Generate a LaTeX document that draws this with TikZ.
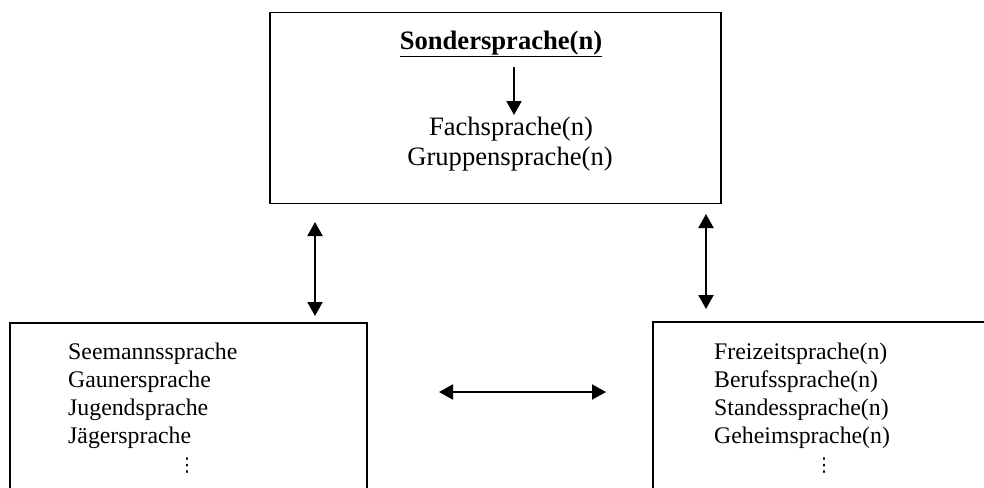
\documentclass[tikz,border=0pt]{standalone}
\usepackage{fontspec}
\setmainfont{Liberation Serif}
\newfontfamily\dotsfont{DejaVu Sans}
\usetikzlibrary{arrows.meta}
\begin{document}
\begin{tikzpicture}[x=1pt,y=-1pt,
  boxline/.style={draw=black,line width=1.5pt},
  bigtxt/.style={inner sep=0pt,anchor=base,font=\fontsize{26.6}{30}\selectfont},
  smalltxt/.style={inner sep=0pt,anchor=base west,font=\fontsize{23.8}{28}\selectfont},
  dotstxt/.style={inner sep=0pt,anchor=center,font=\dotsfont\fontsize{19}{19}\selectfont},
  dbl/.style={line width=2pt,{Triangle[length=14pt,width=15pt]}-{Triangle[length=14pt,width=15pt]}},
  sgl/.style={line width=2pt,-{Triangle[length=14pt,width=15pt]}}]
\clip (0,0) rectangle (984,487);
\fill[white] (0,0) rectangle (984,487);
% boxes
\node[boxline,minimum width=451pt,minimum height=191pt,inner sep=0pt] (top) at (495.5,108) {};
\node[boxline,minimum width=357pt,minimum height=200pt,inner sep=0pt] (left) at (188.5,423) {};
\node[boxline,minimum width=360pt,minimum height=200pt,inner sep=0pt] (right) at (833,422) {};
% top texts
\node[bigtxt,font=\bfseries\fontsize{26.6}{30}\selectfont] (sonder) at (501,49) {\underline{Sondersprache(n)}};
\node[bigtxt] (fach) at (511,135) {Fachsprache(n)};
\node[bigtxt] (gruppe) at (510,165.5) {Gruppensprache(n)};
% left texts
\node[smalltxt] (l1) at (68,359) {Seemannssprache};
\node[smalltxt] (l2) at (68,387) {Gaunersprache};
\node[smalltxt] (l3) at (68,415) {Jugendsprache};
\node[smalltxt] (l4) at (68,443) {Jägersprache};
\node[dotstxt] (l5) at (187,466) {⋮};
% right texts
\node[smalltxt] (r1) at (714,359) {Freizeitsprache(n)};
\node[smalltxt] (r2) at (714,387) {Berufssprache(n)};
\node[smalltxt] (r3) at (714,415) {Standessprache(n)};
\node[smalltxt] (r4) at (714,443) {Geheimsprache(n)};
\node[dotstxt] (r5) at (824,466) {⋮};
% arrow end points
\coordinate (a1) at (514,67);
\coordinate (a2) at (514,115);
\coordinate (lv1) at (315,222);
\coordinate (lv2) at (315,316);
\coordinate (rv1) at (706,214);
\coordinate (rv2) at (706,309);
\coordinate (h1) at (439,392);
\coordinate (h2) at (606,392);
\draw[sgl] (a1) -- (a2);
\draw[dbl] (lv1) -- (lv2);
\draw[dbl] (rv1) -- (rv2);
\draw[dbl] (h1) -- (h2);
\end{tikzpicture}
\end{document}
